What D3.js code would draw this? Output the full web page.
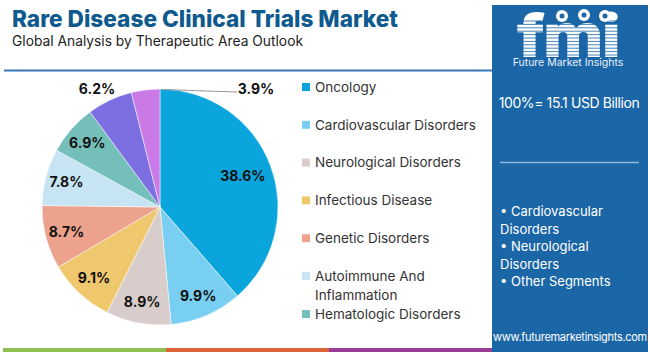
<html>
<head>
<meta charset="UTF-8">
<script src="https://d3js.org/d3.v7.min.js"></script>
<style>
  body { margin: 0; background: #fff; }
  text { font-family: Inter, "Open Sans", sans-serif; }
</style>
</head>
<body>
<svg id="chart" width="650" height="352"></svg>
<script>
// data
const areas = ["Oncology", "Cardiovascular Disorders", "Neurological Disorders", "Infectious Disease",
               "Genetic Disorders", "Autoimmune And Inflammation", "Hematologic Disorders", "Other A", "Other B"];
const shares = [38.6, 9.9, 8.9, 9.1, 8.7, 7.8, 6.9, 6.2, 3.9];
const colors = ["#0aa5dc", "#78cff2", "#d8cdca", "#efc86e", "#eca28c", "#c6e4f3", "#74bfb9", "#7c6fe1", "#ca7ae6"];
const legendNames = ["Oncology", "Cardiovascular Disorders", "Neurological Disorders", "Infectious Disease",
                     "Genetic Disorders", ["Autoimmune And", "Inflammation"], "Hematologic Disorders"];
const panelBullets = [["• Cardiovascular", "Disorders"], ["• Neurological", "Disorders"], ["• Other Segments"]];
const stripeColors = ["#8fc150", "#dd6438", "#983c98"];

const svg = d3.select("#chart");
const blue = "#1b66a6";

// title block
svg.append("text").attr("x", 12).attr("y", 27)
   .attr("font-size", 23).attr("font-weight", 800).attr("fill", "#0e5a8e")
   .attr("textLength", 386).attr("lengthAdjust", "spacingAndGlyphs")
   .text("Rare Disease Clinical Trials Market");
svg.append("text").attr("x", 12).attr("y", 46)
   .attr("font-size", 14).attr("fill", "#222")
   .attr("textLength", 291).attr("lengthAdjust", "spacingAndGlyphs")
   .text("Global Analysis by Therapeutic Area Outlook");
svg.append("line").attr("x1", 4).attr("x2", 492).attr("y1", 70.5).attr("y2", 70.5)
   .attr("stroke", "#3a78b5").attr("stroke-width", 2);

// bottom stripes
const stripeX = d3.scaleLinear().domain([0, 3]).range([3, 492]);
stripeColors.forEach((c, i) => {
  svg.append("rect").attr("x", stripeX(i)).attr("y", 348).attr("width", stripeX(i + 1) - stripeX(i))
     .attr("height", 4).attr("fill", c);
});

// right panel
svg.append("rect").attr("x", 492).attr("y", 5).attr("width", 156).attr("height", 347).attr("fill", blue);
const logo = svg.append("g");
logo.append("text").attr("x", 569).attr("y", 56).attr("text-anchor", "middle")
    .attr("font-family", "DejaVu Serif").attr("font-weight", 700).attr("font-size", 56)
    .attr("fill", "#fff").attr("stroke", "#fff").attr("stroke-width", 2.2)
    .attr("textLength", 102).attr("lengthAdjust", "spacingAndGlyphs").text("fmi");
for (let y = 21; y < 57; y += 3.4) {
  logo.append("line").attr("x1", 515).attr("x2", 624).attr("y1", y).attr("y2", y)
      .attr("stroke", blue).attr("stroke-width", 0.8);
}
[[562, 16], [584, 15], [605, 16]].forEach(p => {
  logo.append("circle").attr("cx", p[0]).attr("cy", p[1]).attr("r", 6).attr("fill", "#fff");
  logo.append("circle").attr("cx", p[0]).attr("cy", p[1]).attr("r", 2.5).attr("fill", blue);
});
svg.append("text").attr("x", 568).attr("y", 66).attr("text-anchor", "middle")
   .attr("font-size", 10.5).attr("fill", "#e8f1fa").text("Future Market Insights");
svg.append("text").attr("x", 569).attr("y", 108).attr("text-anchor", "middle")
   .attr("font-size", 14).attr("fill", "#fff").attr("letter-spacing", -0.4).text("100%= 15.1 USD Billion");
svg.append("line").attr("x1", 500).attr("x2", 639).attr("y1", 162.5).attr("y2", 162.5)
   .attr("stroke", "#8fb8dc").attr("stroke-width", 1.5);
let by = 216;
panelBullets.forEach(lines => {
  lines.forEach(l => {
    svg.append("text").attr("x", 500).attr("y", by).attr("font-size", 13).attr("fill", "#fff").text(l);
    by += 17.5;
  });
});
svg.append("text").attr("x", 570).attr("y", 341).attr("text-anchor", "middle")
   .attr("font-size", 11).attr("fill", "#fff").attr("letter-spacing", -0.3).text("www.futuremarketinsights.com");

// pie
const cx = 160, cy = 207, R = 118;
const pie = d3.pie().sort(null).value(d => d);
const arcs = pie(shares);
const arc = d3.arc().innerRadius(0).outerRadius(R);
const labelArc = d3.arc().innerRadius(R * 0.82).outerRadius(R * 0.82);
const g = svg.append("g").attr("transform", `translate(${cx},${cy})`);
g.selectAll("path").data(arcs).join("path")
 .attr("d", arc).attr("fill", (d, i) => colors[i])
 .attr("stroke", "#fff").attr("stroke-width", 0.5);

const fmt = d => d.toFixed(1) + "%";
arcs.forEach((d, i) => {
  let [x, y] = labelArc.centroid(d);
  if (i === 0) [x, y] = d3.arc().innerRadius(R * 0.75).outerRadius(R * 0.75).centroid(d);
  if (i === 7) { x = -63; y = -118; }
  if (i === 8) {
    g.append("line").attr("x1", 2).attr("y1", -R + 0.5).attr("x2", 77).attr("y2", -R + 3)
     .attr("stroke", "#999").attr("stroke-width", 1);
    x = 96; y = -118;
  }
  g.append("text").attr("x", x).attr("y", y).attr("dy", "0.35em").attr("text-anchor", "middle")
   .attr("font-size", 14).attr("font-weight", 700).attr("fill", "#111").text(fmt(d.data));
});

// legend
let ly = 87;
legendNames.forEach((n, i) => {
  const lines = Array.isArray(n) ? n : [n];
  svg.append("rect").attr("x", 302).attr("y", ly - 4).attr("width", 8).attr("height", 8).attr("fill", colors[i]);
  lines.forEach((l, k) => {
    svg.append("text").attr("x", 315).attr("y", ly + k * 19).attr("dy", "0.35em")
       .attr("font-size", 13.5).attr("fill", "#333").text(l);
  });
  ly += lines.length === 2 ? 38 : 37.8;
});
</script>
</body>
</html>
